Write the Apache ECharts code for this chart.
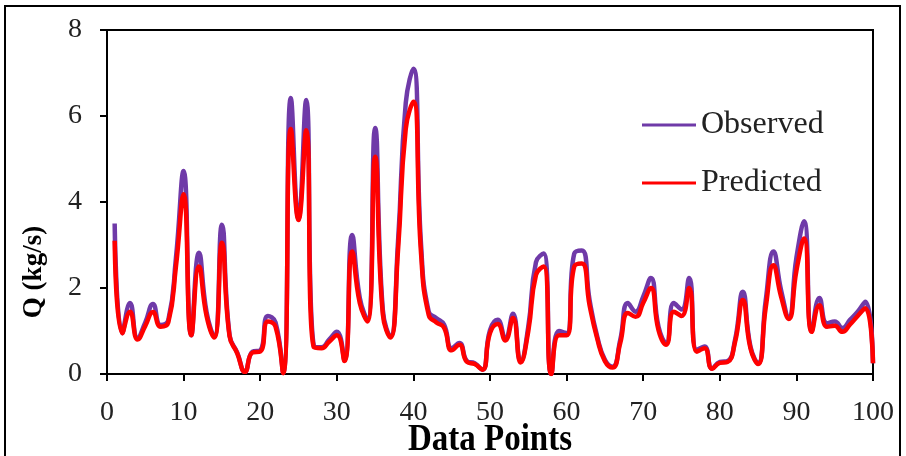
<!DOCTYPE html>
<html>
<head>
<meta charset="utf-8">
<script src="https://cdn.jsdelivr.net/npm/echarts@6/dist/echarts.min.js"></script>
<style>
html,body{margin:0;padding:0;background:#fff;}
#chart{width:906px;height:456px;}
</style>
</head>
<body>
<div id="chart"></div>
<script>
var xTicks = [0, 10, 20, 30, 40, 50, 60, 70, 80, 90, 100];
var yTicks = [0, 2, 4, 6, 8];
var dataPoints = [];
for (var k = 1; k <= 100; k++) dataPoints.push(k);

var observed = [
  3.5, 0.95, 1.65, 0.84, 1.2, 1.63, 1.14, 1.25, 2.7, 4.72,
  0.9, 2.82, 1.44, 0.87, 3.47, 0.9, 0.5, 0.05, 0.52, 0.55,
  1.35, 1.2, 0.03, 6.42, 3.6, 6.37, 0.65, 0.62, 0.8, 0.98,
  0.32, 3.23, 1.77, 1.26, 5.72, 1.5, 0.87, 3.1, 6.3, 7.1,
  3.0, 1.45, 1.3, 1.15, 0.6, 0.72, 0.3, 0.25, 0.1, 1.02,
  1.26, 0.83, 1.4, 0.29, 1.1, 2.6, 2.8, 0.0, 1.0, 0.95,
  2.8, 2.87, 1.72, 0.87, 0.33, 0.17, 0.79, 1.65, 1.45, 1.8,
  2.23, 1.1, 0.72, 1.65, 1.5, 2.23, 0.56, 0.64, 0.13, 0.28,
  0.3, 0.8, 1.91, 0.64, 0.25, 1.72, 2.85, 1.95, 1.33, 2.7,
  3.55, 1.0, 1.77, 1.18, 1.22, 1.07, 1.26, 1.45, 1.68, 0.25
];
var predicted = [
  3.1, 0.95, 1.45, 0.8, 1.12, 1.44, 1.1, 1.2, 2.5, 4.18,
  0.9, 2.5, 1.35, 0.85, 3.05, 0.88, 0.48, 0.05, 0.5, 0.52,
  1.22, 1.1, 0.02, 5.7, 3.58, 5.67, 0.62, 0.6, 0.75, 0.9,
  0.3, 2.85, 1.65, 1.22, 5.05, 1.4, 0.85, 2.9, 5.7, 6.33,
  2.8, 1.37, 1.2, 1.08, 0.55, 0.68, 0.28, 0.23, 0.1, 0.95,
  1.16, 0.78, 1.3, 0.27, 1.0, 2.3, 2.5, 0.0, 0.9, 0.9,
  2.5, 2.57, 1.6, 0.82, 0.3, 0.15, 0.72, 1.42, 1.33, 1.65,
  2.0, 1.02, 0.68, 1.45, 1.35, 2.0, 0.52, 0.6, 0.12, 0.26,
  0.28, 0.75, 1.72, 0.6, 0.23, 1.55, 2.53, 1.8, 1.28, 2.4,
  3.15, 0.98, 1.6, 1.1, 1.12, 0.98, 1.15, 1.35, 1.53, 0.25
];

function pairs(vals) {
  return dataPoints.map(function (x, i) { return [x, vals[i]]; });
}

var serif = '"Liberation Serif", "Times New Roman", serif';
var chart = echarts.init(document.getElementById('chart'), null, {renderer: 'canvas'});
chart.setOption({
  animation: false,
  backgroundColor: '#ffffff',
  grid: {
    left: 107, right: 33, top: 30, bottom: 82,
    outerBoundsMode: 'none', containLabel: false,
    show: true, borderColor: '#000', borderWidth: 2, backgroundColor: 'transparent'
  },
  legend: {
    orient: 'vertical',
    left: 637, top: 104,
    itemWidth: 54, itemHeight: 3, itemGap: 26,
    icon: 'rect',
    textStyle: {fontFamily: serif, fontSize: 32, color: '#222', lineHeight: 32},
    data: ['Observed', 'Predicted']
  },
  xAxis: {
    type: 'value', min: xTicks[0], max: xTicks[xTicks.length - 1], interval: 10,
    axisLine: {lineStyle: {color: '#000', width: 2}},
    axisTick: {show: true, length: 7, lineStyle: {color: '#000', width: 2}},
    axisLabel: {fontFamily: serif, fontSize: 28, color: '#222', margin: 25},
    splitLine: {show: false}
  },
  yAxis: {
    type: 'value', min: yTicks[0], max: yTicks[yTicks.length - 1], interval: 2,
    axisLine: {show: true, lineStyle: {color: '#000', width: 2}},
    axisTick: {show: true, length: 7, lineStyle: {color: '#000', width: 2}},
    axisLabel: {fontFamily: serif, fontSize: 28, color: '#222', margin: 25},
    splitLine: {show: false}
  },
  graphic: [
    {type: 'rect', shape: {x: 5, y: 6, width: 895, height: 480}, style: {fill: 'none', stroke: '#000', lineWidth: 2}, silent: true},
    {type: 'text', x: 34, y: 272, rotation: Math.PI / 2,
     style: {text: 'Q (kg/s)', fontFamily: serif, fontSize: 27, fontWeight: 'bold', fill: '#000', align: 'center', verticalAlign: 'middle'}},
    {type: 'text', x: 490, y: 440, scaleY: 1.15,
     style: {text: 'Data Points', fontFamily: serif, fontSize: 33, fontWeight: 'bold', fill: '#000', align: 'center', verticalAlign: 'middle'}}
  ],
  series: [
    {
      name: 'Observed', type: 'line', data: pairs(observed), smooth: 0.5,
      symbol: 'none', lineStyle: {color: '#6f3aa8', width: 4.5}, itemStyle: {color: '#6f3aa8'}, z: 2
    },
    {
      name: 'Predicted', type: 'line', data: pairs(predicted), smooth: 0.5,
      symbol: 'none', lineStyle: {color: '#ff0000', width: 4.5}, itemStyle: {color: '#ff0000'}, z: 3
    }
  ]
});
</script>
</body>
</html>
